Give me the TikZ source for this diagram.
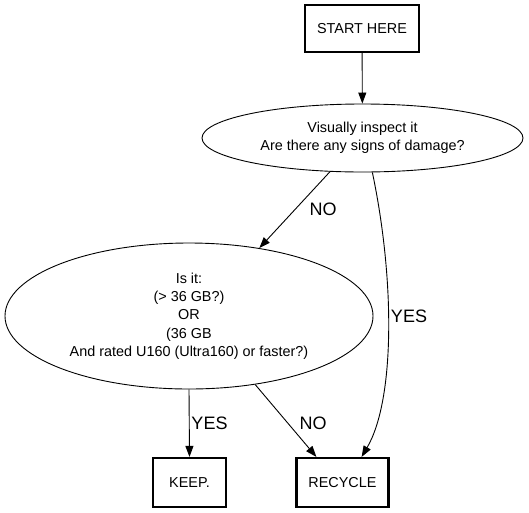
\documentclass[tikz,border=0pt]{standalone}
\usepackage{fontspec}
\setmainfont{Liberation Sans}
\usetikzlibrary{shapes.geometric,arrows.meta,calc}
\begin{document}
\begin{tikzpicture}[x=1pt,y=-1pt,
  box/.style={draw,line width=2.2pt,minimum height=48pt,minimum width=73pt,inner xsep=12pt,font=\fontsize{14.4}{18}\selectfont},
  oval/.style={draw,ellipse,line width=0.9pt,inner sep=0pt,align=center,font=\fontsize{14.4}{18.3}\selectfont},
  conn/.style={line width=0.9pt,-{Triangle[length=11pt,width=8pt]}},
  lbl/.style={font=\fontsize{18}{20}\selectfont,inner sep=0pt}]
\useasboundingbox (0,0) rectangle (529,512);
\node[box,minimum width=114pt,minimum height=47pt] (start) at (362,28.5) {START HERE};
\node[oval,minimum width=321pt,minimum height=68pt] (e1) at (362.5,138) {Visually inspect it\\Are there any signs of damage?};
\node[oval,minimum width=368pt,minimum height=146pt] (e2) at (189,316) {Is it:\\(> 36 GB?)\\OR\\(36 GB\\And rated U160 (Ultra160) or faster?)};
\node[box,minimum height=49pt] (keep) at (189.5,482.5) {KEEP.};
\node[box,minimum width=91pt,minimum height=49pt] (rec) at (342.5,482.5) {RECYCLE};
\draw[conn] (start) -- (e1);
\draw[conn] (e1.-134) -- (e2.44);
\draw[conn] (e1.-74) .. controls (395,280) and (395,400) .. ([xshift=-28pt]rec.north east);
\draw[conn] (e2.south) -- (keep.north);
\draw[conn] (e2.-46) -- ([xshift=21pt]rec.north west);
\node[lbl] (l1) at (323,209) {NO};
\node[lbl] (l2) at (409,316) {YES};
\node[lbl] (l3) at (209.5,423) {YES};
\node[lbl] (l4) at (313,423.5) {NO};
\end{tikzpicture}
\end{document}
